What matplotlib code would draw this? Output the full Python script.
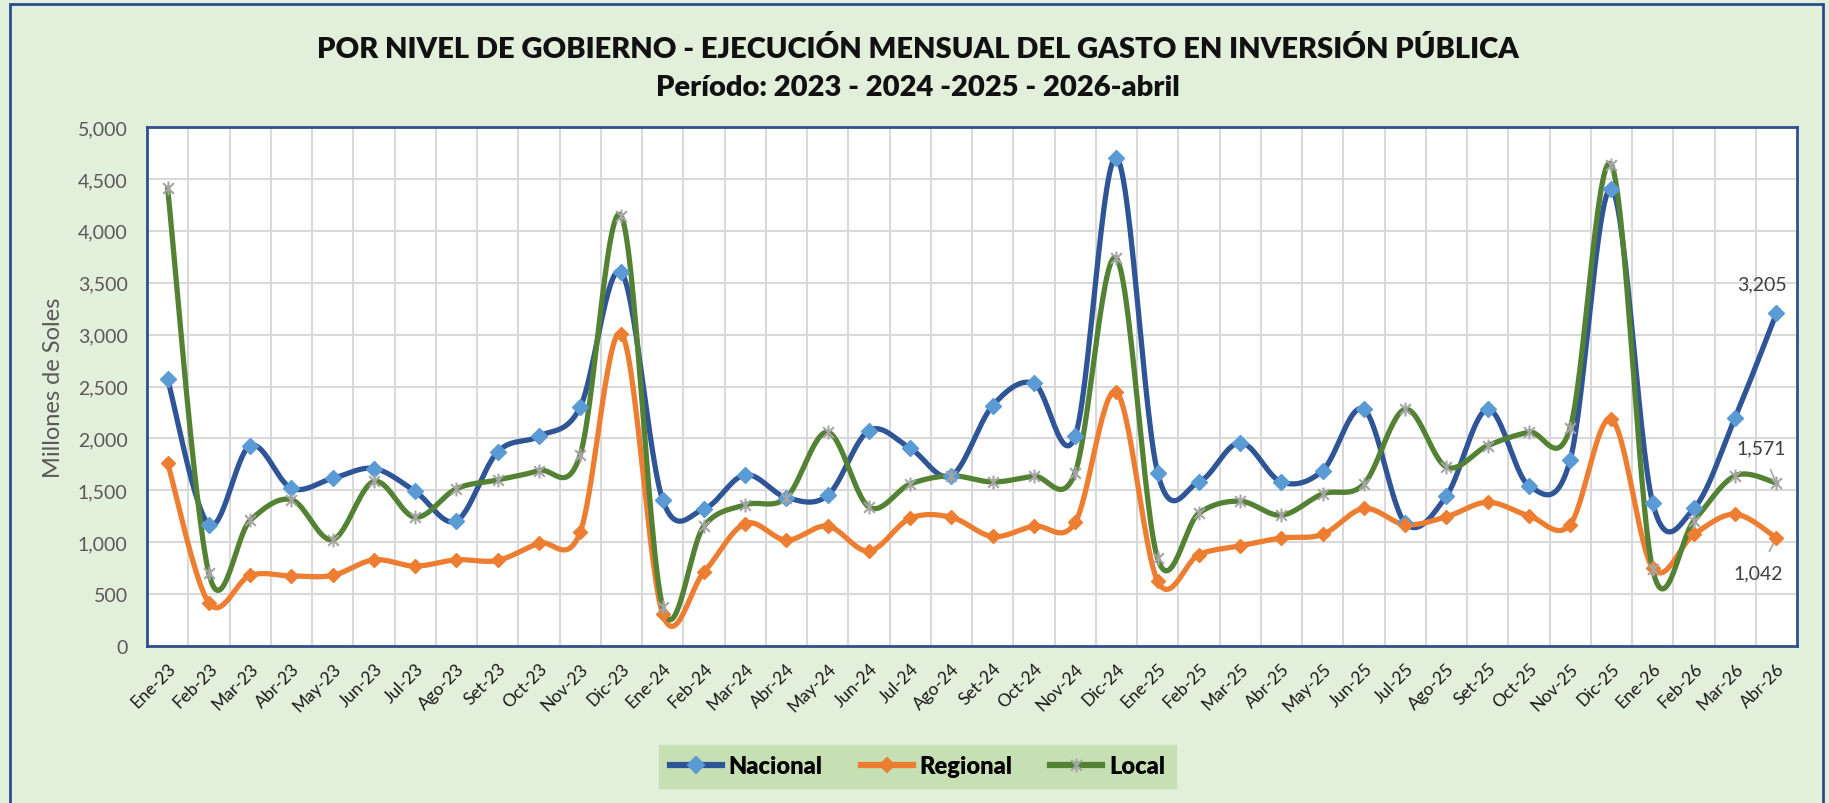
import numpy as np
import matplotlib
matplotlib.use("Agg")
import matplotlib.pyplot as plt
from matplotlib.path import Path
from matplotlib.patches import Rectangle
from matplotlib.ticker import FixedLocator, FuncFormatter
from matplotlib.lines import Line2D

plt.rcParams['font.family'] = ['Lato', 'DejaVu Sans']

meses = ['Ene-23', 'Feb-23', 'Mar-23', 'Abr-23', 'May-23', 'Jun-23', 'Jul-23', 'Ago-23',
         'Set-23', 'Oct-23', 'Nov-23', 'Dic-23',
         'Ene-24', 'Feb-24', 'Mar-24', 'Abr-24', 'May-24', 'Jun-24', 'Jul-24', 'Ago-24',
         'Set-24', 'Oct-24', 'Nov-24', 'Dic-24',
         'Ene-25', 'Feb-25', 'Mar-25', 'Abr-25', 'May-25', 'Jun-25', 'Jul-25', 'Ago-25',
         'Set-25', 'Oct-25', 'Nov-25', 'Dic-25',
         'Ene-26', 'Feb-26', 'Mar-26', 'Abr-26']

nacional = [2570, 1170, 1930, 1520, 1615, 1710, 1490, 1205, 1870, 2020, 2300, 3600,
            1410, 1320, 1650, 1430, 1450, 2075, 1905, 1640, 2315, 2530, 2020, 4705,
            1670, 1580, 1960, 1580, 1690, 2280, 1185, 1445, 2280, 1545, 1790, 4405,
            1380, 1325, 2200, 3205]

regional = [1765, 415, 680, 675, 680, 830, 770, 830, 825, 990, 1095, 3010,
            310, 710, 1180, 1020, 1155, 915, 1230, 1240, 1055, 1155, 1190, 2445,
            625, 880, 965, 1040, 1075, 1325, 1170, 1245, 1385, 1255, 1170, 2185,
            750, 1075, 1270, 1042]

local = [4410, 700, 1210, 1410, 1025, 1585, 1240, 1515, 1600, 1690, 1840, 4140,
         380, 1155, 1360, 1430, 2060, 1340, 1560, 1640, 1580, 1635, 1670, 3735,
         845, 1280, 1395, 1260, 1465, 1560, 2280, 1725, 1930, 2060, 2100, 4635,
         740, 1205, 1640, 1571]

# marcador tipo estrella de excel
star = Path([(-1, -1), (1, 1), (-1, 1), (1, -1), (0, -1.3), (0, 1.3)],
            [Path.MOVETO, Path.LINETO, Path.MOVETO, Path.LINETO, Path.MOVETO, Path.LINETO])

series = [
    ("Nacional", nacional, '#2F5597', 'D', '#5B9BD5', 8),
    ("Regional", regional, '#ED7D31', 'D', '#ED7D31', 7),
    ("Local", local, '#548235', star, '#A5A5A5', 10),
]


def suavizar(y, n=30):
    # curva suavizada como la de excel (bezier catmull-rom)
    y = np.asarray(y, dtype=float)
    x = np.arange(len(y), dtype=float)
    p = np.column_stack([x, y])
    p = np.vstack([p[0], p, p[-1]])
    t = np.linspace(0, 1, n, endpoint=False)[:, None]
    out = []
    for i in range(1, len(p) - 2):
        p0, p1, p2, p3 = p[i - 1], p[i], p[i + 1], p[i + 2]
        c1 = p1 + (p2 - p0) / 6
        c2 = p2 - (p3 - p1) / 6
        seg = ((1 - t) ** 3) * p1 + 3 * ((1 - t) ** 2) * t * c1 + 3 * (1 - t) * t ** 2 * c2 + t ** 3 * p2
        out.append(seg)
    out.append(p[-2][None, :])
    out = np.vstack(out)
    return out[:, 0], out[:, 1]


fig = plt.figure(figsize=(18.29, 8.04), dpi=100)
fig.patch.set_facecolor('#E2EFDA')
fig.patches.append(Rectangle((10 / 1829, -0.02), 1813 / 1829, 1 - 5 / 804 + 0.02,
                             transform=fig.transFigure, fill=False,
                             edgecolor='#2B4C8C', linewidth=2, zorder=0))

ax = fig.add_axes([147 / 1829, 1 - 647 / 804, 1650 / 1829, 519 / 804])
ax.set_facecolor('white')

x = np.arange(len(meses))
handles = []
for nombre, vals, lc, mk, mc, ms in series:
    xs, ys = suavizar(vals)
    ax.plot(xs, ys, color=lc, linewidth=3.8, solid_capstyle='round', zorder=3)
    if mk == 'D':
        ax.plot(x, vals, linestyle='none', marker='D', markersize=ms,
                markerfacecolor=mc, markeredgecolor=mc, zorder=4)
    else:
        ax.plot(x, vals, linestyle='none', marker=mk, markersize=ms,
                markerfacecolor='none', markeredgecolor=mc, markeredgewidth=1.5, zorder=4)
    handles.append(Line2D([0], [0], color=lc, linewidth=4.5, marker=mk, markersize=ms,
                          markerfacecolor=mc if mk == 'D' else 'none',
                          markeredgecolor=mc, markeredgewidth=1.5))

ax.set_xlim(-0.5, len(meses) - 0.5)
ax.set_ylim(0, 5000)
ax.set_yticks(np.arange(0, 5001, 500))
ax.yaxis.set_major_formatter(FuncFormatter(lambda v, p: f"{v:,.0f}"))
ax.set_xticks(x)
ax.set_xticklabels(meses, rotation=45, ha='right', rotation_mode='anchor',
                   fontsize=12.5, color='#1a1a1a')
ax.xaxis.set_minor_locator(FixedLocator(np.arange(0.5, len(meses) - 1, 1)))
ax.tick_params(axis='x', which='both', length=0, pad=10)
ax.tick_params(axis='y', length=0, pad=14, labelsize=14, labelcolor='#595959')
ax.grid(axis='y', which='major', color='#D9D9D9', linewidth=1.5)
ax.grid(axis='x', which='minor', color='#D9D9D9', linewidth=1.5)
ax.set_axisbelow(True)
for s in ax.spines.values():
    s.set_color('#2F4F8F')
    s.set_linewidth(2)

ax.set_ylabel("Millones de Soles", fontsize=17, color='#595959', labelpad=10)

# etiquetas del ultimo mes
n = len(meses) - 1
ax.annotate(f"{nacional[-1]:,.0f}", (n, nacional[-1]), xytext=(-10, 21),
            textcoords='offset points', ha='center', va='center', fontsize=14, color='#404040')
ax.annotate(f"{local[-1]:,.0f}", (n, local[-1]), xytext=(-11, 25),
            textcoords='offset points', ha='center', va='center', fontsize=14, color='#404040',
            arrowprops=dict(arrowstyle='-', color='#A5A5A5', lw=1.2, shrinkA=8, shrinkB=2))
ax.annotate(f"{regional[-1]:,.0f}", (n, regional[-1]), xytext=(-13, -25),
            textcoords='offset points', ha='center', va='center', fontsize=14, color='#404040',
            arrowprops=dict(arrowstyle='-', color='#A5A5A5', lw=1.2, shrinkA=8, shrinkB=2))

fig.text(0.5017, 0.939, "POR NIVEL DE GOBIERNO - EJECUCIÓN MENSUAL DEL GASTO EN INVERSIÓN PÚBLICA",
         ha='center', va='center', fontsize=21, fontweight='heavy', color='#111111')
fig.text(0.5017, 0.891, "Período: 2023 - 2024 -2025 - 2026-abril",
         ha='center', va='center', fontsize=21, fontweight='heavy', color='#111111')

leg = fig.legend(handles, [s[0] for s in series], loc='center', bbox_to_anchor=(0.5017, 0.0454),
                 ncol=3, frameon=True, fancybox=False, handlelength=2.2,
                 columnspacing=1.6, borderpad=0.45, handletextpad=0.3,
                 prop={'weight': 'heavy', 'size': 17})
leg.get_frame().set_facecolor('#C6E0B4')
leg.get_frame().set_edgecolor('#C6E0B4')
leg.get_frame().set_alpha(1)

fig.savefig("out.png", dpi=100, facecolor=fig.get_facecolor())
